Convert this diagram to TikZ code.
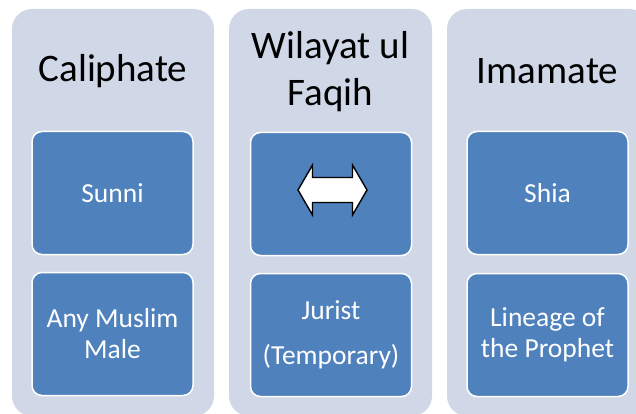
\documentclass[tikz,border=0pt]{standalone}
\usepackage{fontspec}
\setmainfont{Carlito}
\definecolor{panelfill}{HTML}{D0D8E8}
\definecolor{boxblue}{HTML}{4F81BD}
\begin{document}
\begin{tikzpicture}[x=1pt,y=-1pt,
  panelbox/.style={fill=panelfill, rounded corners=20pt, minimum height=407pt, inner sep=0pt},
  titletext/.style={align=center, text=black, font=\fontsize{39}{47}\selectfont, inner sep=0pt},
  innerbox/.style={fill=boxblue, draw=white, line width=1.5pt, rounded corners=10pt,
    text=white, align=center, font=\fontsize{27.5}{31}\selectfont,
    minimum width=161pt, minimum height=123pt, inner sep=0pt},
  arrowshape/.style={draw=black, fill=white, line width=1.4pt, line join=miter}]
\useasboundingbox (0,0) rectangle (636,414);
\clip (0,0) rectangle (636,414);
% panels
\node[panelbox, minimum width=202pt] (p1) at (113,212.5) {};
\node[panelbox, minimum width=203pt] (p2) at (330.5,212.5) {};
\node[panelbox, minimum width=202pt] (p3) at (548,212.5) {};
% titles
\node[titletext] (t1) at (113,71) {Caliphate};
\node[titletext] (t2) at (330.5,71.5) {Wilayat ul\\Faqih};
\node[titletext] (t3) at (547.5,71) {Imamate};
% inner boxes
\node[innerbox] (b1a) at (112.5,193) {Sunni};
\node[innerbox] (b1b) at (112.5,334) {Any Muslim\\Male};
\node[innerbox] (b2a) at (331,194) {};
\node[innerbox] (b2b) at (331,335) {Jurist\\[14pt](Temporary)};
\node[innerbox] (b3a) at (547.5,193) {Shia};
\node[innerbox] (b3b) at (547.5,335) {Lineage of\\the Prophet};
% double arrow
\begin{scope}[shift={(332.5,190)}]
\draw[arrowshape] (-34.5,0) -- (-20,-25) -- (-20,-12.5) -- (20,-12.5) -- (20,-25) -- (34.5,0)
  -- (20,25) -- (20,12.5) -- (-20,12.5) -- (-20,25) -- cycle;
\end{scope}
\end{tikzpicture}
\end{document}
